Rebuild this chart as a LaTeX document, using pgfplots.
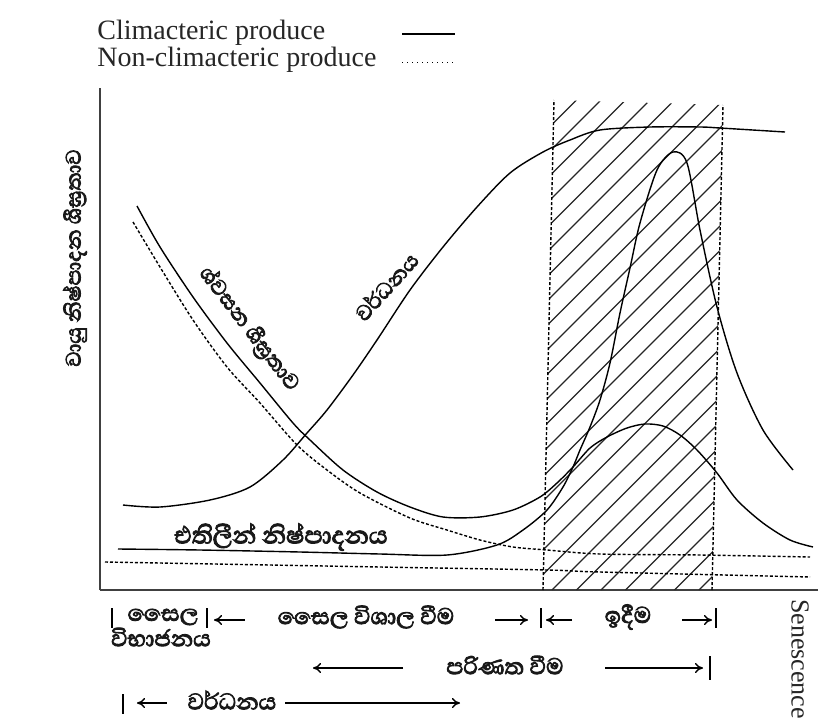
\documentclass[border=0pt]{standalone}
\usepackage{fontspec}
\setmainfont{Liberation Serif}
\newfontfamily\sinhfont[Script=Sinhala, FakeBold=3]{Abhaya Libre}
\usepackage{pgfplots}
\pgfplotsset{compat=1.18}
\usetikzlibrary{arrows.meta}
\tikzset{arr/.style={line width=0.7pt, -{To[length=4pt,width=5pt]}}}
\newcommand{\sfs}{\sinhfont\fontsize{14.5}{16}\selectfont}
\newcommand{\sfl}{\sinhfont\fontsize{13.5}{15}\selectfont}
\begin{document}
\begin{tikzpicture}
\path[use as bounding box] (-50pt,-64.5pt) rectangle (359.5pt,295pt);
\begin{axis}[x=0.5pt, y=0.5pt, xmin=100, xmax=818, ymin=0, ymax=502,
  axis lines*=left, ticks=none, clip=false,
  axis line style={line width=1.2pt, black!75},
  curve/.style={black, line width=0.7pt, smooth},
  ncurve/.style={black, line width=0.7pt, smooth, dash pattern=on 1.5pt off 1pt}]

% hatched ripening zone
\begin{scope}
\clip (axis cs:543,0) -- (axis cs:554,490) -- (axis cs:723,485) -- (axis cs:712,0) -- cycle;
\pgfplotsinvokeforeach{62,86.5,111,135.5,160,184.5,209,233.5,258,282.5,307,331.5,356,380.5,405,429.5,454,478.5,503,527.5,552,576.5,601,625.5,650,674.5,699}{
  \draw[black!85, line width=0.6pt] (axis cs:#1,0) -- ++(300pt,300pt);
}
\end{scope}
\draw[black, line width=0.7pt, dash pattern=on 1.5pt off 1pt] (axis cs:543,0) -- (axis cs:554,490);
\draw[black, line width=0.7pt, dash pattern=on 1.5pt off 1pt] (axis cs:712,0) -- (axis cs:723,485);

% growth (solid)
\addplot[curve] coordinates {(123,85) (160,83) (210,90) (250,103) (283,130) (307,157) (327,180) (353,215) (377,250) (410,300) (443,343) (477,383) (510,417) (543,438) (570,450) (600,460) (650,463) (700,463) (720,462) (785,458)};

% respiration climacteric (solid)
\addplot[curve] coordinates {(137,384) (160,343) (193,293) (227,247) (260,207) (293,167) (310,150) (343,120) (377,98) (410,83) (443,73) (480,73) (513,80) (540,93) (557,107) (573,123) (590,142) (607,153) (627,162) (645,166) (663,164) (680,155) (697,140) (717,117) (737,90) (763,67) (790,50) (813,43)};

% respiration non-climacteric (dotted)
\addplot[ncurve] coordinates {(133,368) (160,323) (193,270) (227,223) (260,187) (297,145) (327,120) (360,97) (410,72) (447,60) (480,50) (513,43) (547,40) (600,36) (700,35) (810,33)};

% ethylene climacteric (solid)
\addplot[curve] coordinates {(118,41) (200,40) (300,38) (380,36) (447,35) (497,45) (523,60) (547,80) (563,103) (573,123) (580,140) (590,163) (600,190) (610,227) (620,277) (630,322) (640,367) (657,420) (673,438) (687,427) (700,360) (717,283) (737,217) (763,160) (793,120)};

% ethylene non-climacteric (dotted)
\addplot[ncurve] coordinates {(105,28) (380,23) (547,20) (600,18) (810,13)};

% legend
\node[anchor=west, inner sep=0pt, text=black!85, font=\fontsize{14}{16}\selectfont] at (axis cs:97,557) {Climacteric produce};
\node[anchor=west, inner sep=0pt, text=black!85, font=\fontsize{14}{16}\selectfont] at (axis cs:97,530) {Non-climacteric produce};
\draw[line width=0.7pt] (axis cs:402,556) -- (axis cs:455,556);
\draw[line width=0.5pt, dotted] (axis cs:402,528) -- (axis cs:455,528);

% y label
\node[rotate=90, font=\sfl, text=black!90] at (axis cs:75,332) {වායු නිෂ්පාදන ශීඝ්^^^^200dරතාව};

% curve labels
\node[rotate=-52.5, font=\sfl, text=black!90] at (axis cs:249,261) {ශ්වසන ශීඝ්^^^^200dරතාව};
\node[rotate=48, font=\sfl, text=black!90] at (axis cs:386,304) {වර්ධනය};
\node[font=\sinhfont\fontsize{15.5}{17}\selectfont, text=black!90] at (axis cs:281,53) {එතිලීන් නිෂ්පාදනය};

% bottom row 1
\draw[line width=0.7pt] (axis cs:112,-18) -- (axis cs:112,-38);
\node[font=\sfs, text=black!90] at (axis cs:163,-27) {සෛල};
\node[font=\sfs, text=black!90] at (axis cs:161,-47) {විභාජනය};
\draw[line width=0.7pt] (axis cs:207,-18) -- (axis cs:207,-38);
\draw[arr] (axis cs:245,-30) -- (axis cs:214,-30);
\node[font=\sfs, text=black!90] at (axis cs:366,-27) {සෛල විශාල වීම};
\draw[arr] (axis cs:495,-30) -- (axis cs:528,-30);
\draw[line width=0.7pt] (axis cs:541,-18) -- (axis cs:541,-38);
\draw[arr] (axis cs:572,-30) -- (axis cs:546,-30);
\draw[line width=0.7pt] (axis cs:716,-18) -- (axis cs:716,-38);
\node[font=\sfs, text=black!90] at (axis cs:628,-27) {ඉදීම};
\draw[arr] (axis cs:682,-30) -- (axis cs:712,-30);

% bottom row 2
\draw[arr] (axis cs:403,-78) -- (axis cs:313,-78);
\node[font=\sfs, text=black!90] at (axis cs:505,-75) {පරිණත වීම};
\draw[arr] (axis cs:605,-78) -- (axis cs:703,-78);
\draw[line width=0.7pt] (axis cs:710,-66) -- (axis cs:710,-90);

% bottom row 3
\draw[line width=0.7pt] (axis cs:123,-104) -- (axis cs:123,-124);
\draw[arr] (axis cs:167,-113) -- (axis cs:137,-113);
\node[font=\sfs, text=black!90] at (axis cs:232,-110) {වර්ධනය};
\draw[arr] (axis cs:285,-113) -- (axis cs:460,-113);

% senescence
\node[rotate=-90, text=black!85, font=\fontsize{13}{15}\selectfont] at (axis cs:800,-69) {Senescence};
\end{axis}
\end{tikzpicture}
\end{document}
